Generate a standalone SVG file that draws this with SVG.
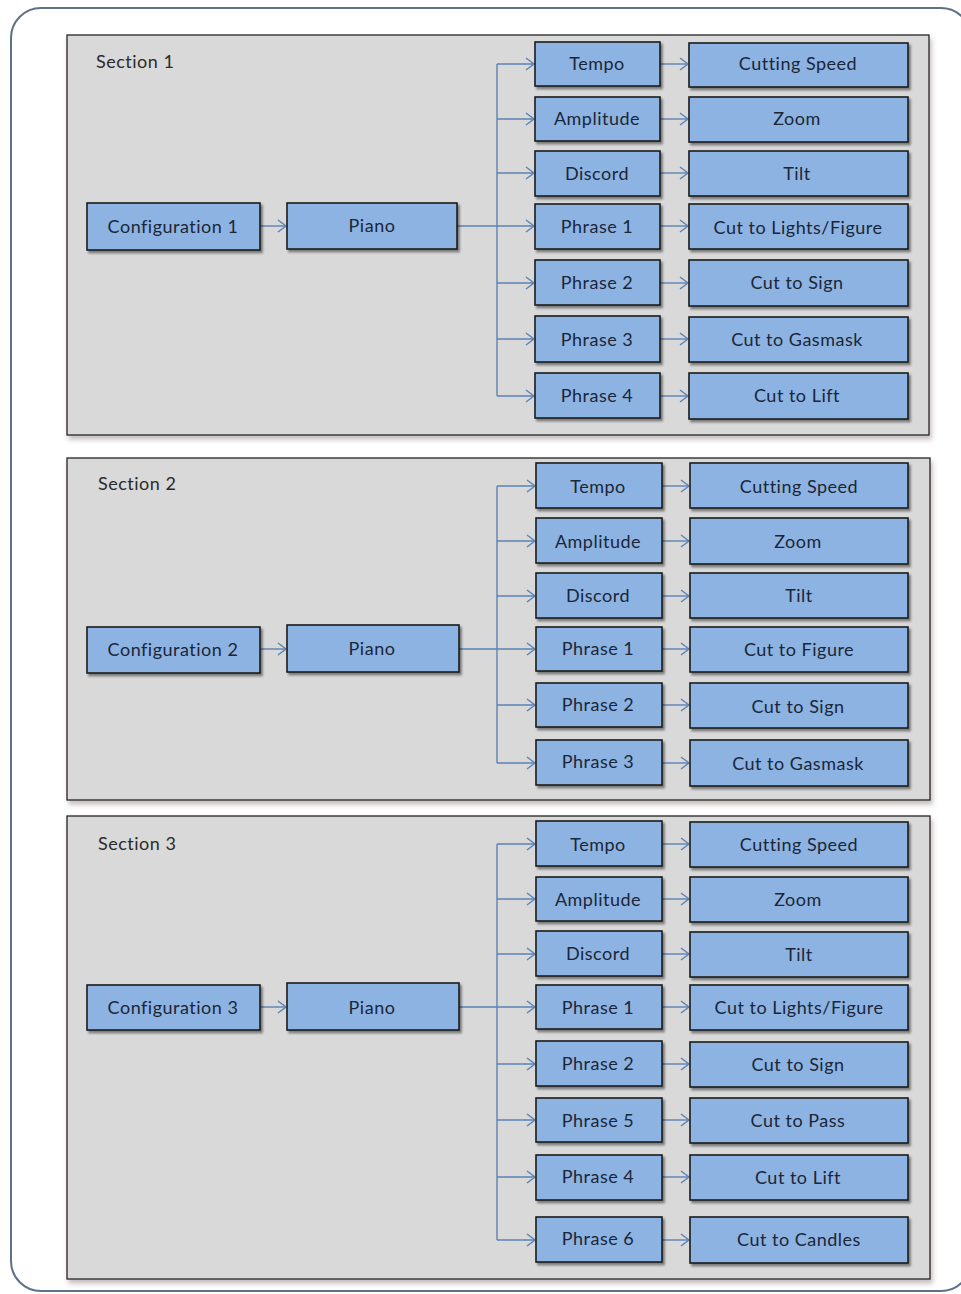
<svg xmlns="http://www.w3.org/2000/svg" width="961" height="1294" viewBox="0 0 961 1294">
  <defs>
    <style>
      .frame { fill: #ffffff; stroke: #5f7189; stroke-width: 2; }
      .section { fill: #d9d9d9; stroke: #262626; stroke-width: 1.3; filter: url(#secShadow); }
      .box { fill: #8db3e2; stroke: #1c1c1c; stroke-width: 1.6; filter: url(#boxShadow); }
      .lbl { font-family: "Lato", "Liberation Sans", sans-serif; font-size: 18px; letter-spacing: 0.5px; fill: #1b2638; text-anchor: middle; dominant-baseline: central; }
      .sec { font-family: "Lato", "Liberation Sans", sans-serif; font-size: 18px; letter-spacing: 0.5px; fill: #2a2a2a; }
      .wire { fill: none; stroke: #5a82b4; stroke-width: 1.4; }
      .arr { fill: none; stroke: #5a82b4; stroke-width: 1.4; marker-end: url(#chev); }
    </style>
    <marker id="chev" markerUnits="userSpaceOnUse" markerWidth="12" markerHeight="14" refX="10" refY="7" orient="auto">
      <path d="M2,1 L10,7 L2,13" fill="none" stroke="#5a82b4" stroke-width="1.4"/>
    </marker>
    <filter id="boxShadow" x="-10%" y="-20%" width="125%" height="150%">
      <feDropShadow dx="2" dy="2.5" stdDeviation="1.2" flood-color="#000" flood-opacity="0.45"/>
    </filter>
    <filter id="secShadow" x="-5%" y="-5%" width="110%" height="110%">
      <feDropShadow dx="2" dy="4" stdDeviation="2.5" flood-color="#5a4040" flood-opacity="0.35"/>
    </filter>
  </defs>

  <!-- outer frame -->
  <rect class="frame" x="11" y="8" width="960" height="1283" rx="30" ry="30"/>

  <!-- section panels -->
  <g id="section1">
    <rect class="section" x="67" y="35" width="862" height="400"/>
    <text class="sec" x="96" y="68">Section 1</text>
  </g>
  <g id="section2">
    <rect class="section" x="67" y="458" width="863" height="342"/>
    <text class="sec" x="98" y="490">Section 2</text>
  </g>
  <g id="section3">
    <rect class="section" x="67" y="816" width="863" height="463"/>
    <text class="sec" x="98" y="850">Section 3</text>
  </g>

  <!-- connectors -->
  <g id="connectors">
    <!-- section 1 -->
    <path class="arr" d="M260,226 H286"/>
    <path class="wire" d="M457,226 H497"/>
    <path class="wire" d="M497,64 V396"/>
    <path class="arr" d="M497,64 H534"/>
    <path class="arr" d="M497,119 H534"/>
    <path class="arr" d="M497,173 H534"/>
    <path class="arr" d="M497,226 H534"/>
    <path class="arr" d="M497,283 H534"/>
    <path class="arr" d="M497,339 H534"/>
    <path class="arr" d="M497,396 H534"/>
    <path class="arr" d="M660,64 H688"/>
    <path class="arr" d="M660,119 H688"/>
    <path class="arr" d="M660,173 H688"/>
    <path class="arr" d="M660,226 H688"/>
    <path class="arr" d="M660,283 H688"/>
    <path class="arr" d="M660,339 H688"/>
    <path class="arr" d="M660,396 H688"/>
    <!-- section 2 -->
    <path class="arr" d="M260,649 H286"/>
    <path class="wire" d="M459,649 H497"/>
    <path class="wire" d="M497,486 V763"/>
    <path class="arr" d="M497,486 H535"/>
    <path class="arr" d="M497,541 H535"/>
    <path class="arr" d="M497,596 H535"/>
    <path class="arr" d="M497,649 H535"/>
    <path class="arr" d="M497,705 H535"/>
    <path class="arr" d="M497,763 H535"/>
    <path class="arr" d="M662,486 H689"/>
    <path class="arr" d="M662,541 H689"/>
    <path class="arr" d="M662,596 H689"/>
    <path class="arr" d="M662,649 H689"/>
    <path class="arr" d="M662,705 H689"/>
    <path class="arr" d="M662,763 H689"/>
    <!-- section 3 -->
    <path class="arr" d="M260,1007 H286"/>
    <path class="wire" d="M459,1007 H497"/>
    <path class="wire" d="M497,844 V1240"/>
    <path class="arr" d="M497,844 H535"/>
    <path class="arr" d="M497,899 H535"/>
    <path class="arr" d="M497,954 H535"/>
    <path class="arr" d="M497,1007 H535"/>
    <path class="arr" d="M497,1064 H535"/>
    <path class="arr" d="M497,1120 H535"/>
    <path class="arr" d="M497,1177 H535"/>
    <path class="arr" d="M497,1240 H535"/>
    <path class="arr" d="M662,844 H689"/>
    <path class="arr" d="M662,899 H689"/>
    <path class="arr" d="M662,954 H689"/>
    <path class="arr" d="M662,1007 H689"/>
    <path class="arr" d="M662,1064 H689"/>
    <path class="arr" d="M662,1120 H689"/>
    <path class="arr" d="M662,1177 H689"/>
    <path class="arr" d="M662,1240 H689"/>
  </g>

  <!-- section 1 nodes -->
  <g id="s1-config"><rect class="box" x="87" y="203" width="173" height="47"/><text class="lbl" x="173" y="226">Configuration 1</text></g>
  <g id="s1-piano"><rect class="box" x="287" y="203" width="170" height="46"/><text class="lbl" x="372" y="225">Piano</text></g>
  <g id="s1-tempo"><rect class="box" x="535" y="42" width="125" height="44"/><text class="lbl" x="597" y="63">Tempo</text></g>
  <g id="s1-amplitude"><rect class="box" x="535" y="97" width="125" height="44"/><text class="lbl" x="597" y="118">Amplitude</text></g>
  <g id="s1-discord"><rect class="box" x="535" y="151" width="125" height="45"/><text class="lbl" x="597" y="173">Discord</text></g>
  <g id="s1-phrase1"><rect class="box" x="535" y="204" width="125" height="45"/><text class="lbl" x="597" y="226">Phrase 1</text></g>
  <g id="s1-phrase2"><rect class="box" x="535" y="260" width="125" height="45"/><text class="lbl" x="597" y="282">Phrase 2</text></g>
  <g id="s1-phrase3"><rect class="box" x="535" y="316" width="125" height="46"/><text class="lbl" x="597" y="339">Phrase 3</text></g>
  <g id="s1-phrase4"><rect class="box" x="535" y="373" width="125" height="45"/><text class="lbl" x="597" y="395">Phrase 4</text></g>
  <g id="s1-cutting"><rect class="box" x="689" y="43" width="219" height="44"/><text class="lbl" x="798" y="63">Cutting Speed</text></g>
  <g id="s1-zoom"><rect class="box" x="689" y="97" width="219" height="45"/><text class="lbl" x="797" y="118">Zoom</text></g>
  <g id="s1-tilt"><rect class="box" x="689" y="151" width="219" height="45"/><text class="lbl" x="797" y="173">Tilt</text></g>
  <g id="s1-lights"><rect class="box" x="689" y="204" width="219" height="45"/><text class="lbl" x="798" y="227">Cut to Lights/Figure</text></g>
  <g id="s1-sign"><rect class="box" x="689" y="260" width="219" height="46"/><text class="lbl" x="797" y="282">Cut to Sign</text></g>
  <g id="s1-gasmask"><rect class="box" x="689" y="317" width="219" height="45"/><text class="lbl" x="797" y="339">Cut to  Gasmask</text></g>
  <g id="s1-lift"><rect class="box" x="689" y="373" width="219" height="46"/><text class="lbl" x="797" y="395">Cut to  Lift</text></g>

  <!-- section 2 nodes -->
  <g id="s2-config"><rect class="box" x="87" y="627" width="173" height="46"/><text class="lbl" x="173" y="649">Configuration 2</text></g>
  <g id="s2-piano"><rect class="box" x="287" y="625" width="172" height="47"/><text class="lbl" x="372" y="648">Piano</text></g>
  <g id="s2-tempo"><rect class="box" x="536" y="463" width="126" height="45"/><text class="lbl" x="598" y="486">Tempo</text></g>
  <g id="s2-amplitude"><rect class="box" x="536" y="518" width="126" height="45"/><text class="lbl" x="598" y="541">Amplitude</text></g>
  <g id="s2-discord"><rect class="box" x="536" y="573" width="126" height="45"/><text class="lbl" x="598" y="595">Discord</text></g>
  <g id="s2-phrase1"><rect class="box" x="536" y="627" width="126" height="44"/><text class="lbl" x="598" y="648">Phrase 1</text></g>
  <g id="s2-phrase2"><rect class="box" x="536" y="683" width="126" height="44"/><text class="lbl" x="598" y="704">Phrase 2</text></g>
  <g id="s2-phrase3"><rect class="box" x="536" y="740" width="126" height="45"/><text class="lbl" x="598" y="761">Phrase 3</text></g>
  <g id="s2-cutting"><rect class="box" x="690" y="463" width="218" height="45"/><text class="lbl" x="799" y="486">Cutting Speed</text></g>
  <g id="s2-zoom"><rect class="box" x="690" y="518" width="218" height="46"/><text class="lbl" x="798" y="541">Zoom</text></g>
  <g id="s2-tilt"><rect class="box" x="690" y="573" width="218" height="45"/><text class="lbl" x="799" y="595">Tilt</text></g>
  <g id="s2-figure"><rect class="box" x="690" y="627" width="218" height="45"/><text class="lbl" x="799" y="649">Cut to Figure</text></g>
  <g id="s2-sign"><rect class="box" x="690" y="683" width="218" height="45"/><text class="lbl" x="798" y="706">Cut to Sign</text></g>
  <g id="s2-gasmask"><rect class="box" x="690" y="740" width="218" height="46"/><text class="lbl" x="798" y="763">Cut to  Gasmask</text></g>

  <!-- section 3 nodes -->
  <g id="s3-config"><rect class="box" x="87" y="985" width="173" height="45"/><text class="lbl" x="173" y="1007">Configuration 3</text></g>
  <g id="s3-piano"><rect class="box" x="287" y="983" width="172" height="47"/><text class="lbl" x="372" y="1007">Piano</text></g>
  <g id="s3-tempo"><rect class="box" x="536" y="821" width="126" height="45"/><text class="lbl" x="598" y="844">Tempo</text></g>
  <g id="s3-amplitude"><rect class="box" x="536" y="877" width="126" height="44"/><text class="lbl" x="598" y="899">Amplitude</text></g>
  <g id="s3-discord"><rect class="box" x="536" y="931" width="126" height="45"/><text class="lbl" x="598" y="953">Discord</text></g>
  <g id="s3-phrase1"><rect class="box" x="536" y="985" width="126" height="44"/><text class="lbl" x="598" y="1007">Phrase 1</text></g>
  <g id="s3-phrase2"><rect class="box" x="536" y="1041" width="126" height="45"/><text class="lbl" x="598" y="1063">Phrase 2</text></g>
  <g id="s3-phrase5"><rect class="box" x="536" y="1098" width="126" height="44"/><text class="lbl" x="598" y="1120">Phrase 5</text></g>
  <g id="s3-phrase4"><rect class="box" x="536" y="1155" width="126" height="45"/><text class="lbl" x="598" y="1176">Phrase 4</text></g>
  <g id="s3-phrase6"><rect class="box" x="536" y="1217" width="126" height="45"/><text class="lbl" x="598" y="1238">Phrase 6</text></g>
  <g id="s3-cutting"><rect class="box" x="690" y="822" width="218" height="45"/><text class="lbl" x="799" y="844">Cutting Speed</text></g>
  <g id="s3-zoom"><rect class="box" x="690" y="877" width="218" height="45"/><text class="lbl" x="798" y="899">Zoom</text></g>
  <g id="s3-tilt"><rect class="box" x="690" y="932" width="218" height="45"/><text class="lbl" x="799" y="954">Tilt</text></g>
  <g id="s3-lights"><rect class="box" x="690" y="985" width="218" height="45"/><text class="lbl" x="799" y="1007">Cut to Lights/Figure</text></g>
  <g id="s3-sign"><rect class="box" x="690" y="1042" width="218" height="45"/><text class="lbl" x="798" y="1064">Cut to Sign</text></g>
  <g id="s3-pass"><rect class="box" x="690" y="1098" width="218" height="45"/><text class="lbl" x="798" y="1120">Cut to  Pass</text></g>
  <g id="s3-lift"><rect class="box" x="690" y="1155" width="218" height="45"/><text class="lbl" x="798" y="1177">Cut to  Lift</text></g>
  <g id="s3-candles"><rect class="box" x="690" y="1217" width="218" height="46"/><text class="lbl" x="799" y="1239">Cut to  Candles</text></g>
</svg>
